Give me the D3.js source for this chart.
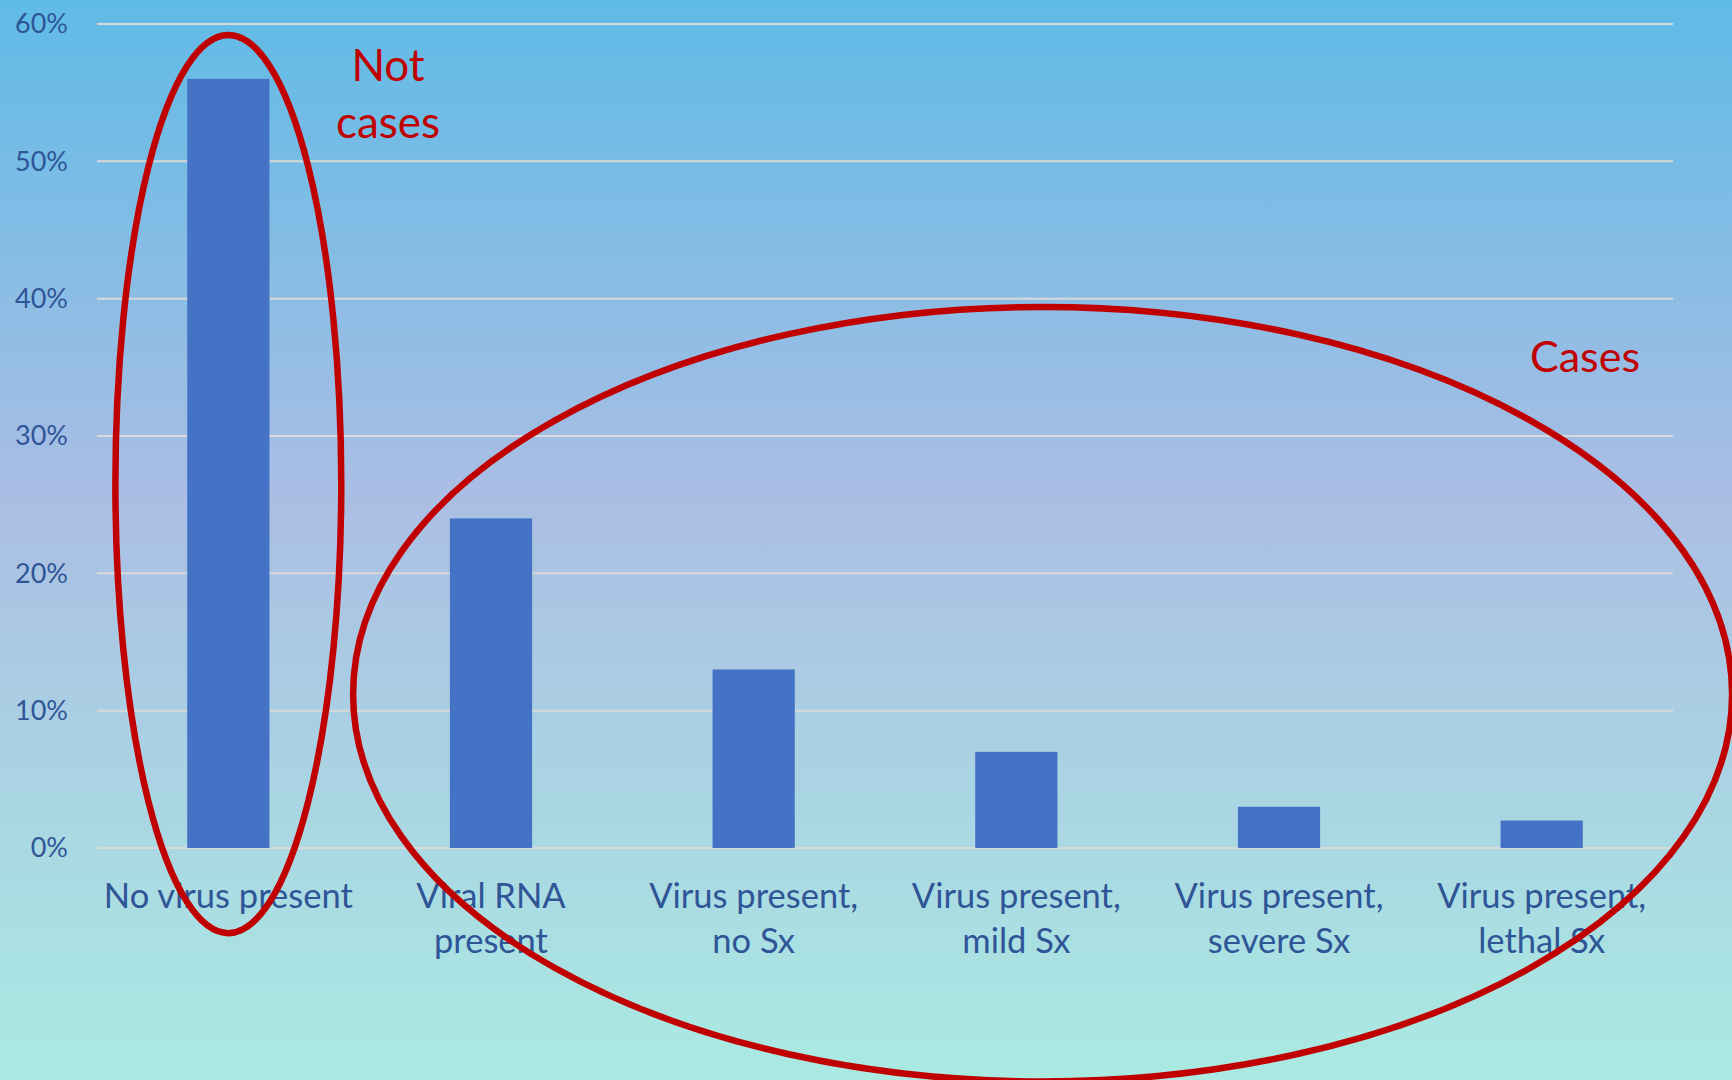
<!DOCTYPE html>
<html>
<head>
<meta charset="utf-8">
<script src="https://cdn.jsdelivr.net/npm/d3@7"></script>
<style>
  html, body { margin: 0; padding: 0; overflow: hidden; }
  text { font-family: Lato, "Open Sans", sans-serif; }
</style>
</head>
<body>
<div id="chart"></div>
<script>
const categories = [
  ['No virus present'],
  ['Viral RNA', 'present'],
  ['Virus present,', 'no Sx'],
  ['Virus present,', 'mild Sx'],
  ['Virus present,', 'severe Sx'],
  ['Virus present,', 'lethal Sx']
];
const values = [56, 24, 13, 7, 3, 2];
const yTicks = [0, 10, 20, 30, 40, 50, 60];

// annotation ellipses, in category-index / percent units
const notCasesRing = { cx: 0.5, cy: 26.5, rx: 0.43, ry: 32.7 };
const casesRing = { cx: 3.6, cy: 11.2, rx: 2.625, ry: 28.2 };

const W = 1732, H = 1080;
const margin = { top: 24, left: 97, right: 59, bottom: 232 };
const width = W - margin.left - margin.right,
      height = H - margin.top - margin.bottom;

const svg = d3.select('#chart').append('svg')
  .attr('width', W)
  .attr('height', H);

const grad = svg.append('defs').append('linearGradient')
  .attr('id', 'bg')
  .attr('x1', 0).attr('y1', 0).attr('x2', 0).attr('y2', 1);
grad.append('stop').attr('offset', '0%').attr('stop-color', '#5fbbe6');
grad.append('stop').attr('offset', '46%').attr('stop-color', '#aabee4');
grad.append('stop').attr('offset', '100%').attr('stop-color', '#aaeae2');

svg.append('rect')
  .attr('width', W).attr('height', H)
  .attr('fill', 'url(#bg)');

const g = svg.append('g')
  .attr('transform', 'translate(' + margin.left + ',' + margin.top + ')');

const x = d3.scaleBand()
  .domain(d3.range(categories.length))
  .range([0, width])
  .padding(0);

const xi = d3.scaleLinear()
  .domain([0, categories.length])
  .range([0, width]);

const y = d3.scaleLinear()
  .domain([0, 60])
  .range([height, 0]);

// gridlines
g.append('g')
  .selectAll('line')
  .data(yTicks)
  .enter().append('line')
  .attr('x1', 0).attr('x2', width)
  .attr('y1', d => y(d)).attr('y2', d => y(d))
  .attr('stroke', '#d9d9d9')
  .attr('stroke-width', 2);

// y axis labels
g.append('g')
  .selectAll('text')
  .data(yTicks)
  .enter().append('text')
  .attr('x', -29)
  .attr('y', d => y(d))
  .attr('dy', '0.35em')
  .attr('text-anchor', 'end')
  .attr('fill', '#2f5597')
  .attr('font-size', 27)
  .text(d => d + '%');

// bars
const barW = x.bandwidth() * 0.313;
g.append('g')
  .selectAll('rect')
  .data(values)
  .enter().append('rect')
  .attr('x', (d, i) => x(i) + (x.bandwidth() - barW) / 2)
  .attr('y', d => y(d))
  .attr('width', barW)
  .attr('height', d => y(0) - y(d))
  .attr('fill', '#4472c4');

// category labels
const lab = g.append('g')
  .selectAll('text')
  .data(categories)
  .enter().append('text')
  .attr('x', (d, i) => x(i) + x.bandwidth() / 2)
  .attr('y', height + 60)
  .attr('text-anchor', 'middle')
  .attr('fill', '#2f5597')
  .attr('font-size', 34.5);
lab.selectAll('tspan')
  .data(d => d)
  .enter().append('tspan')
  .attr('x', function() { return d3.select(this.parentNode).attr('x'); })
  .attr('dy', (d, i) => i === 0 ? 0 : 45)
  .text(d => d);

// annotation rings
[notCasesRing, casesRing].forEach(r => {
  g.append('ellipse')
    .attr('cx', xi(r.cx))
    .attr('cy', y(r.cy))
    .attr('rx', xi(r.rx) - xi(0))
    .attr('ry', y(0) - y(r.ry))
    .attr('fill', 'none')
    .attr('stroke', '#c00000')
    .attr('stroke-width', 6.5);
});

// annotation texts
svg.append('text')
  .attr('x', 388).attr('y', 81)
  .attr('text-anchor', 'middle')
  .attr('fill', '#c00000')
  .attr('font-size', 44)
  .text('Not');
svg.append('text')
  .attr('x', 388).attr('y', 138)
  .attr('text-anchor', 'middle')
  .attr('fill', '#c00000')
  .attr('font-size', 44)
  .text('cases');
svg.append('text')
  .attr('x', 1585).attr('y', 372)
  .attr('text-anchor', 'middle')
  .attr('fill', '#c00000')
  .attr('font-size', 43)
  .text('Cases');
</script>
</body>
</html>
